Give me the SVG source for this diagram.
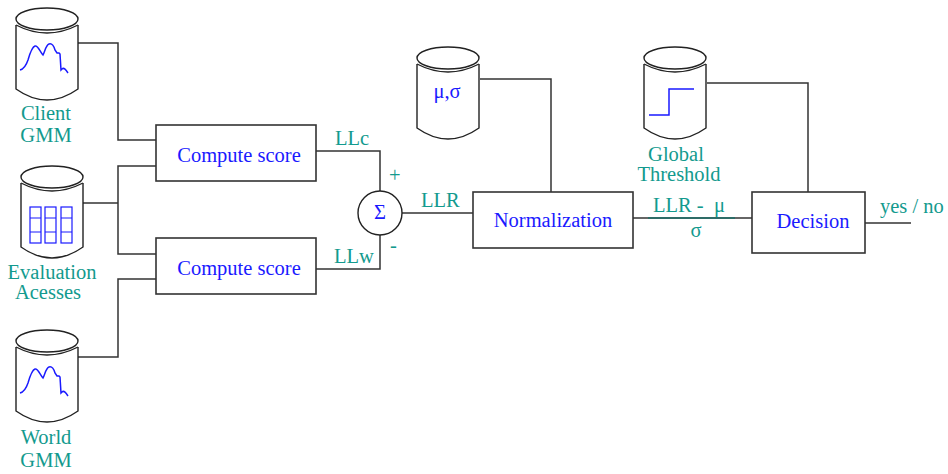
<svg xmlns="http://www.w3.org/2000/svg" width="948" height="474" viewBox="0 0 948 474">
<style>
.ln{fill:none;stroke:#333;stroke-width:1.5}
.bx{fill:#fff;stroke:#333;stroke-width:1.6}
.cy{fill:#fff;stroke:#222;stroke-width:1.4}
.bl{fill:none;stroke:#1a1aff;stroke-width:1.5}
.tb{font-family:"Liberation Serif","Times New Roman",serif;font-size:20.5px;fill:#1a1aff;text-anchor:middle}
.tt{font-family:"Liberation Serif","Times New Roman",serif;font-size:20.5px;fill:#139a8e;text-anchor:middle}
.ts{font-family:"Liberation Serif","Times New Roman",serif;font-size:20.5px;fill:#139a8e}
</style>
<defs>
<g id="cyl">
<path class="cy" d="M0,6 L0,70 Q31,92 62,70 L62,6"/>
<path class="cy" d="M0,6 Q31,22 62,6"/>
<ellipse class="cy" cx="31" cy="0" rx="31" ry="11"/>
</g>
<path id="gmm" class="bl" d="M20,70 C24,69 26,66 28,60 C30,53 32,47 35,46 C38,45 40,52 43,55 C45,51 46,45 49,44 C52,43 54,46 55,50 L57,53 L59,53 L60,54 L61,70 L62,69 C64,67 66,70 68,73"/>
</defs>
<g id="connectors">
<polyline class="ln" points="78,43 118,43 118,140 156,140"/>
<polyline class="ln" points="83,203 118,203"/>
<polyline class="ln" points="156,166 118,166 118,254 156,254"/>
<polyline class="ln" points="78,357 118,357 118,279 156,279"/>
<polyline class="ln" points="316,151 380,151 380,191"/>
<polyline class="ln" points="316,269 380,269 380,235"/>
<line class="ln" x1="402" y1="213" x2="473" y2="213"/>
<polyline class="ln" points="480,79 551,79 551,192"/>
<line class="ln" x1="633" y1="218" x2="752" y2="218"/>
<polyline class="ln" points="707,83 808,83 808,192"/>
<line class="ln" x1="865" y1="223" x2="911" y2="223"/>
<text class="ts" x="335" y="145">LLc</text>
<text class="ts" x="334" y="263">LLw</text>
<text class="ts" x="389" y="182">+</text>
<text class="ts" x="390" y="252">-</text>
<text class="ts" x="421" y="207">LLR</text>
<text class="ts" x="653" y="212" xml:space="preserve">LLR -  μ</text>
<line x1="648" y1="218" x2="735" y2="218" stroke="#1d6f68" stroke-width="1.6"/>
<text class="tt" x="696" y="237">σ</text>
<text class="ts" x="880" y="213">yes / no</text>
</g>
<g id="client-gmm">
<use href="#cyl" x="16" y="19"/>
<use href="#gmm"/>
<text class="tt" x="46" y="120">Client</text>
<text class="tt" x="46" y="142">GMM</text>
</g>
<g id="evaluation">
<use href="#cyl" x="21" y="177"/>
<g class="bl" style="stroke-width:1.2">
<rect x="30" y="207" width="11" height="36"/>
<rect x="45" y="207" width="11" height="36"/>
<rect x="61" y="207" width="11" height="36"/>
<path d="M30,218H41M45,218H56M61,218H72M30,232H41M45,232H56M61,232H72"/>
</g>
<text class="tt" x="52" y="279">Evaluation</text>
<text class="tt" x="48" y="299">Acesses</text>
</g>
<g id="world-gmm">
<use href="#cyl" x="16" y="341"/>
<use href="#gmm" y="323"/>
<text class="tt" x="46" y="444">World</text>
<text class="tt" x="46" y="467">GMM</text>
</g>
<g id="compute1">
<rect class="bx" x="156" y="125" width="160" height="56"/>
<text class="tb" x="239" y="162">Compute score</text>
</g>
<g id="compute2">
<rect class="bx" x="156" y="238" width="160" height="56"/>
<text class="tb" x="239" y="275">Compute score</text>
</g>
<g id="sum">
<circle cx="380" cy="213" r="22" fill="#fff" stroke="#222" stroke-width="1.4"/>
<text class="tb" x="380" y="219">Σ</text>
</g>
<g id="mu-sigma">
<use href="#cyl" x="417" y="58"/>
<text class="tb" x="447" y="98">μ,σ</text>
</g>
<g id="normalization">
<rect class="bx" x="473" y="192" width="160" height="56"/>
<text class="tb" x="553" y="227">Normalization</text>
</g>
<g id="threshold">
<use href="#cyl" x="644" y="58"/>
<polyline class="bl" points="649,115 669,115 669,89 694,89"/>
<text class="tt" x="676" y="161">Global</text>
<text class="tt" x="679" y="181">Threshold</text>
</g>
<g id="decision">
<rect class="bx" x="752" y="192" width="113" height="61"/>
<text class="tb" x="813" y="228">Decision</text>
</g>
</svg>
